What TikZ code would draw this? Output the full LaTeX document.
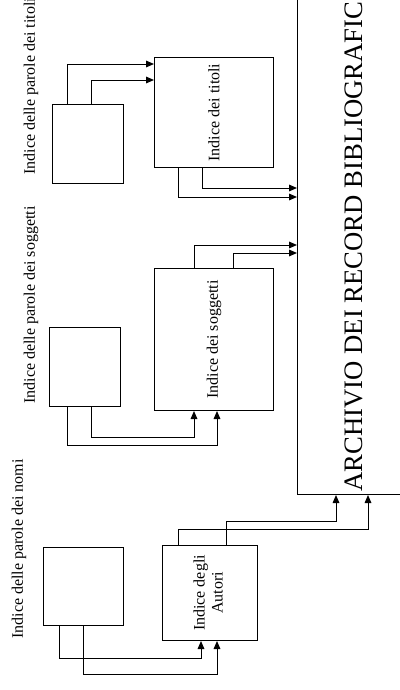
\documentclass[tikz,border=0pt]{standalone}
\usepackage{fontspec}
\setmainfont{Liberation Serif}
\usepackage{graphicx}
\usetikzlibrary{arrows.meta,calc}

\colorlet{figLine}{black}
\colorlet{figText}{black}

\begin{document}
\begin{tikzpicture}[x=0.75pt,y=-0.75pt,
    box/.style={draw=figLine, line width=0.75pt, inner sep=0pt, anchor=north west,
                font=\fontsize{12}{13.5}\selectfont, text=figText},
    conn/.style={-{Triangle[length=6pt,width=5pt]}, line width=0.75pt, figLine},
    lbl/.style={rotate=90, anchor=west, inner sep=0pt, text=figText,
                font=\fontsize{12}{14}\selectfont}]
        \useasboundingbox(0,0) rectangle (400,690);
        \clip(0,0) rectangle (400,690);
        % archivio
        \node[box, anchor=south west, minimum width=84.75pt, minimum height=378.75pt,
              font=\fontsize{20}{24}\selectfont](arch) at (297,495)
              {\rotatebox{90}{ARCHIVIO DEI RECORD BIBLIOGRAFICI}};
        % titoli
        \node[box, minimum width=53.25pt, minimum height=59.25pt](wt) at (52,104){};
        \node[box, minimum width=89.25pt, minimum height=82.5pt](it) at (154,57)
              {\rotatebox{90}{Indice dei titoli}};
        \node[lbl](lt) at (31,175){Indice delle parole dei titoli};
        % soggetti
        \node[box, minimum width=53.25pt, minimum height=59.25pt](ws) at (49,327){};
        \node[box, minimum width=89.25pt, minimum height=106.5pt](is) at (154,268)
              {\rotatebox{90}{Indice dei soggetti}};
        \node[lbl](ls) at (31,404){Indice delle parole dei soggetti};
        % nomi
        \node[box, minimum width=60pt, minimum height=58.5pt](wn) at (43,547){};
        \node[box, minimum width=71.25pt, minimum height=71.25pt](ia) at (162,545)
              {\rotatebox{90}{\begin{tabular}{@{}c@{}}Indice degli\\Autori\end{tabular}}};
        \node[lbl](ln) at (19,639){Indice delle parole dei nomi};
        % connettori titoli
        \draw[conn]($(wt.north west)+(15,0)$) |- ($(it.north west)+(0,7)$);
        \draw[conn]($(wt.north west)+(39,0)$) |- ($(it.north west)+(0,23)$);
        \draw[conn]($(it.south west)+(24,0)$) |- ($(arch.south west)+(0,-298)$);
        \draw[conn]($(it.south west)+(48,0)$) |- ($(arch.south west)+(0,-307)$);
        % connettori soggetti
        \draw[conn]($(ws.south west)+(42,0)$) --++(0,30) -| ($(is.south west)+(40,0)$);
        \draw[conn]($(ws.south west)+(18,0)$) --++(0,38) -| ($(is.south west)+(63,0)$);
        \draw[conn]($(is.north west)+(40,0)$) |- ($(arch.south west)+(0,-250)$);
        \draw[conn]($(is.north west)+(79,0)$) |- ($(arch.south west)+(0,-242)$);
        % connettori nomi
        \draw[conn]($(wn.south west)+(16,0)$) --++(0,32) -| ($(ia.south west)+(39,0)$);
        \draw[conn]($(wn.south west)+(40,0)$) --++(0,48) -| ($(ia.south west)+(55,0)$);
        \draw[conn]($(ia.north west)+(16,0)$) --++(0,-16) -| ($(arch.south west)+(71,0)$);
        \draw[conn]($(ia.north west)+(64,0)$) --++(0,-24) -| ($(arch.south west)+(39,0)$);
\end{tikzpicture}
\end{document}
